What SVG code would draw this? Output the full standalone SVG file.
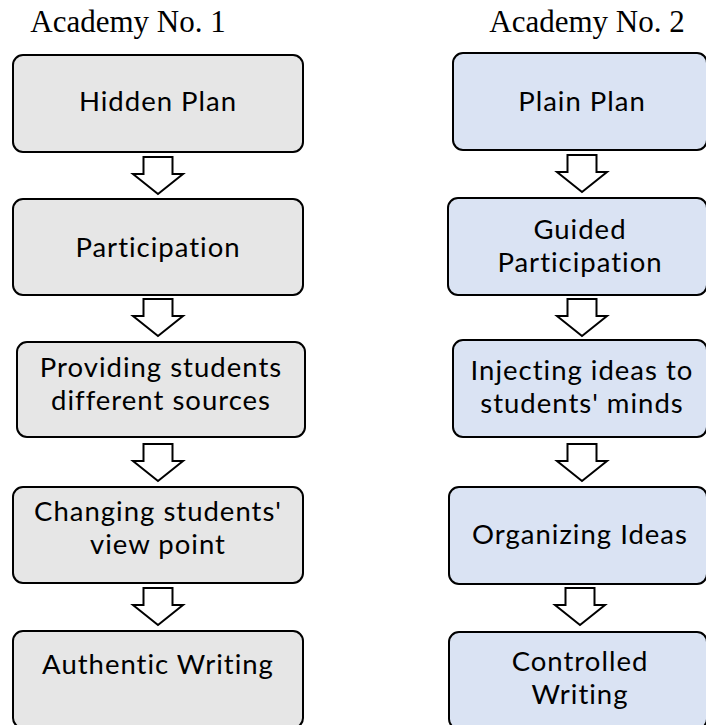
<svg xmlns="http://www.w3.org/2000/svg" width="706" height="725" viewBox="0 0 706 725">
<style>
.g rect{fill:#e6e6e6;stroke:#000;stroke-width:2}
.b rect{fill:#dae3f3;stroke:#000;stroke-width:2}
.t{font-family:Lato,"Noto Sans",sans-serif;font-size:27.5px;letter-spacing:1px;fill:#000;text-anchor:middle}
.h{font-family:"Liberation Serif","Times New Roman",serif;font-size:31px;fill:#000;text-anchor:middle}
</style>
<defs>
<path id="a" d="M-14.5,0 H14.5 V17 H25 L0,37 L-25,17 H-14.5 Z" fill="#fff" stroke="#000" stroke-width="2"/>
</defs>
<text class="h" x="128" y="32">Academy No. 1</text>
<text class="h" x="587" y="32">Academy No. 2</text>

<g id="L1" class="g"><rect x="13" y="55" width="290" height="97" rx="10"/><text class="t" x="158" y="111">Hidden Plan</text></g>
<g id="L2" class="g"><rect x="13" y="199" width="290" height="96" rx="10"/><text class="t" x="158" y="257">Participation</text></g>
<g id="L3" class="g"><rect x="17" y="342" width="288" height="95" rx="10"/><text class="t" x="161" y="377">Providing students</text><text class="t" x="161" y="410">different sources</text></g>
<g id="L4" class="g"><rect x="13" y="487" width="290" height="96" rx="10"/><text class="t" x="158" y="521">Changing students'</text><text class="t" x="158" y="554">view point</text></g>
<g id="L5" class="g"><rect x="13" y="631" width="290" height="97" rx="10"/><text class="t" x="158" y="674">Authentic Writing</text></g>

<g id="R1" class="b"><rect x="453" y="53" width="254" height="97" rx="10"/><text class="t" x="582" y="111">Plain Plan</text></g>
<g id="R2" class="b"><rect x="448" y="198" width="259" height="97" rx="10"/><text class="t" x="580" y="239">Guided</text><text class="t" x="580" y="272">Participation</text></g>
<g id="R3" class="b"><rect x="453" y="340" width="254" height="97" rx="10"/><text class="t" x="582" y="380">Injecting ideas to</text><text class="t" x="582" y="413">students' minds</text></g>
<g id="R4" class="b"><rect x="449" y="487" width="258" height="97" rx="10"/><text class="t" x="580" y="544">Organizing Ideas</text></g>
<g id="R5" class="b"><rect x="449" y="632" width="258" height="97" rx="10"/><text class="t" x="580" y="671">Controlled</text><text class="t" x="580" y="704">Writing</text></g>

<g id="connectors">
<use href="#a" x="158" y="157"/>
<use href="#a" x="158" y="299"/>
<use href="#a" x="158" y="444"/>
<use href="#a" x="158" y="588"/>
<use href="#a" x="582" y="155"/>
<use href="#a" x="582" y="299"/>
<use href="#a" x="582" y="444"/>
<use href="#a" x="580" y="588"/>
</g>
</svg>
